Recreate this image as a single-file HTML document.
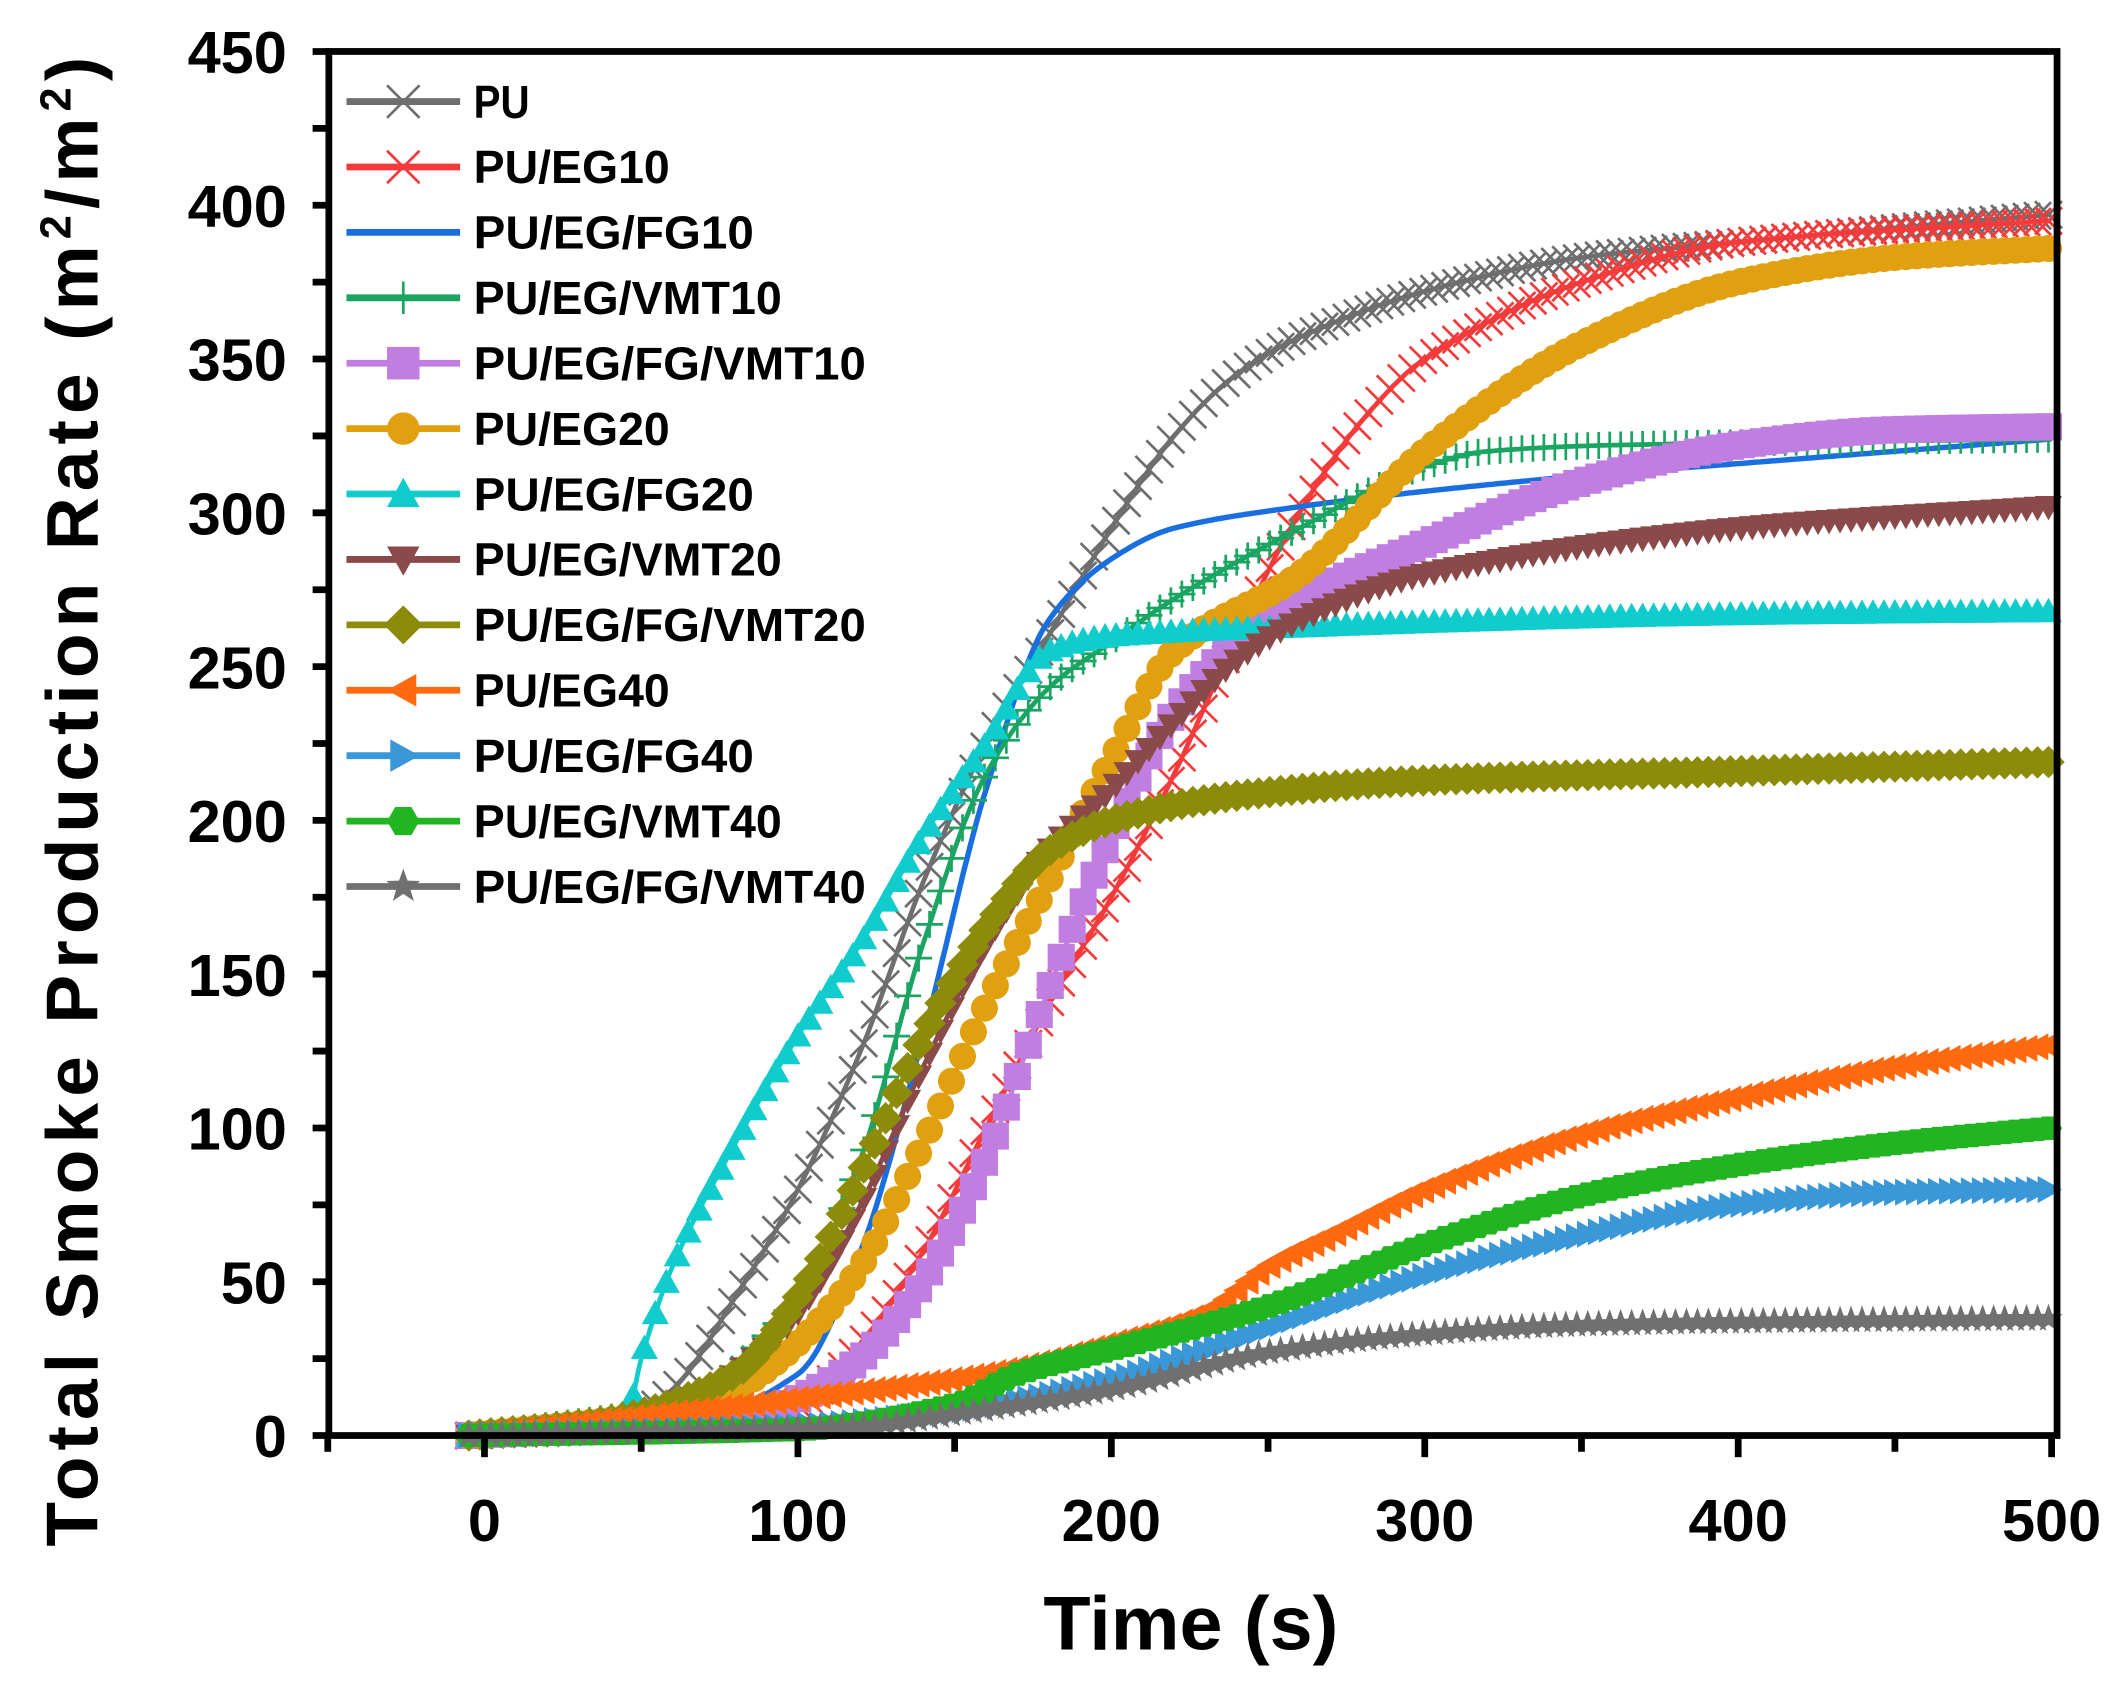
<!DOCTYPE html>
<html><head><meta charset="utf-8"><style>
html,body{margin:0;padding:0;background:#fff}
svg{display:block}
text{font-family:"Liberation Sans",Arial,sans-serif;font-weight:bold;fill:#000}
</style></head><body>
<svg id="s" width="2122" height="1682" viewBox="0 0 1568 1242" preserveAspectRatio="none" xmlns="http://www.w3.org/2000/svg">
<rect width="1568" height="1242" fill="#fff"/>
<g id="plot"></g>
<g id="axes"></g>
<g id="leg"></g>
<text x="880" y="1218" font-size="56" text-anchor="middle" textLength="218" lengthAdjust="spacingAndGlyphs">Time (s)</text>
<text transform="translate(72,592) rotate(-90)" font-size="54" text-anchor="middle" textLength="1100" lengthAdjust="spacing">Total Smoke Production Rate (m<tspan dy="-20" font-size="32">2</tspan><tspan dy="20">/m</tspan><tspan dy="-20" font-size="32">2</tspan><tspan dy="20">)</tspan></text>
</svg>
<script>
var NS="http://www.w3.org/2000/svg";
function X(t){return 358+t*2.316}
function Y(v){return 1060-v*2.2711}
function el(p,tag,a){var e=document.createElementNS(NS,tag);for(var k in a)e.setAttribute(k,a[k]);p.appendChild(e);return e}
var S=[
["PU","#6e6e6e","x",[[-5,0],[40,2],[60,15],[80,45],[100,80],[120,125],[140,180],[160,225],[180,260],[200,295],[220,325],[240,345],[260,357],[300,372],[350,383],[400,388],[500,397]]],
["PU/EG10","#f43b3b","x",[[-5,0],[60,3],[100,10],[120,30],[140,60],[160,100],[180,140],[200,175],[220,215],[240,260],[260,300],[280,330],[300,350],[350,375],[400,388],[500,395]]],
["PU/EG/FG10","#1a6fe0","none",[[-5,0],[60,3],[100,20],[120,60],[140,130],[160,210],[180,265],[200,285],[220,295],[260,302],[300,307],[350,312],[400,316],[500,324]]],
["PU/EG/VMT10","#1aa563","+",[[-5,0],[60,10],[100,45],[120,90],[140,160],[160,215],[180,243],[200,258],[220,272],[260,295],[300,315],[320,320],[360,322],[500,324]]],
["PU/EG/FG/VMT10","#c07fe0","sq",[[-5,0],[80,5],[100,12],[120,25],[140,50],[160,90],[180,145],[200,195],[220,235],[240,258],[260,272],[300,290],[350,310],[400,322],[450,327],[500,328]]],
["PU/EG20","#e0a010","ci",[[-5,0],[60,8],[80,15],[100,30],[120,55],[140,95],[160,140],[180,180],[200,220],[220,255],[260,280],[300,320],[350,355],[400,375],[450,383],[500,386]]],
["PU/EG/FG20","#10cccc","tu",[[-5,0],[45,5],[50,25],[60,55],[80,95],[100,130],[120,160],[140,195],[160,225],[180,255],[200,260],[260,263],[400,267],[500,268]]],
["PU/EG/VMT20","#8b4a4a","td",[[-5,0],[60,8],[80,20],[100,40],[120,75],[140,120],[160,160],[180,190],[200,210],[220,232],[240,252],[260,265],[300,280],[400,295],[500,302]]],
["PU/EG/FG/VMT20","#8c8c0a","di",[[-5,0],[40,5],[80,20],[100,45],[120,85],[140,130],[160,165],[180,190],[200,200],[240,208],[300,213],[400,216],[500,219]]],
["PU/EG40","#ff6a10","tl",[[-5,0],[40,5],[100,12],[160,20],[200,30],[230,40],[250,55],[270,65],[300,80],[350,98],[400,110],[450,120],[500,127]]],
["PU/EG/FG40","#3a98d8","tr",[[-5,0],[100,3],[150,8],[200,18],[250,35],[300,52],[350,65],[400,75],[450,79],[500,80]]],
["PU/EG/VMT40","#22b522","hx",[[-5,0],[100,2],[150,10],[170,20],[200,28],[250,42],[300,62],[350,78],[400,88],[450,95],[500,100]]],
["PU/EG/FG/VMT40","#707070","st",[[-5,0],[120,3],[150,7],[200,15],[250,27],[300,33],[350,36],[400,37],[500,38]]]
];
function interp(p,t){
 var n=p.length;
 for(var i=1;i<n;i++){if(t<=p[i][0]||i==n-1){
  var a=p[i-1],b=p[i],h=b[0]-a[0];
  function sl(j){if(j<=0||j>=n-1)return j<=0?(p[1][1]-p[0][1])/(p[1][0]-p[0][0]):(p[n-1][1]-p[n-2][1])/(p[n-1][0]-p[n-2][0]);
   var s1=(p[j][1]-p[j-1][1])/(p[j][0]-p[j-1][0]),s2=(p[j+1][1]-p[j][1])/(p[j+1][0]-p[j][0]);
   if(s1*s2<=0)return 0;return 2/(1/s1+1/s2);}
  var m0=sl(i-1),m1=sl(i),u=(t-a[0])/h;u=Math.max(0,Math.min(1,u));
  var h00=2*u*u*u-3*u*u+1,h10=u*u*u-2*u*u+u,h01=-2*u*u*u+3*u*u,h11=u*u*u-u*u;
  return h00*a[1]+h10*h*m0+h01*b[1]+h11*h*m1;}}
 return p[n-1][1];}
function marker(g,type,x,y,c,r){
 if(type=="x"){el(g,"path",{d:"M"+(x-r)+","+(y-r)+"L"+(x+r)+","+(y+r)+"M"+(x-r)+","+(y+r)+"L"+(x+r)+","+(y-r),stroke:c,"stroke-width":2,fill:"none"});}
 else if(type=="+"){el(g,"path",{d:"M"+(x-r)+","+y+"L"+(x+r)+","+y+"M"+x+","+(y-r)+"L"+x+","+(y+r),stroke:c,"stroke-width":2,fill:"none"});}
 else if(type=="sq")el(g,"rect",{x:x-r,y:y-r,width:2*r,height:2*r,fill:c});
 else if(type=="ci")el(g,"circle",{cx:x,cy:y,r:r,fill:c});
 else{var p;
  if(type=="tu")p=[[0,-r],[r,r*0.8],[-r,r*0.8]];
  else if(type=="td")p=[[0,r],[r,-r*0.8],[-r,-r*0.8]];
  else if(type=="tl")p=[[-r,0],[r*0.8,-r],[r*0.8,r]];
  else if(type=="tr")p=[[r,0],[-r*0.8,-r],[-r*0.8,r]];
  else if(type=="di")p=[[0,-r*1.2],[r*1.2,0],[0,r*1.2],[-r*1.2,0]];
  else if(type=="hx"){p=[];for(var k=0;k<6;k++){var a=Math.PI/3*k;p.push([r*Math.cos(a),r*Math.sin(a)])}}
  else if(type=="st"){p=[];for(var k=0;k<10;k++){var a=-Math.PI/2+Math.PI/5*k,rr=k%2?r*0.45:r*1.1;p.push([rr*Math.cos(a),rr*Math.sin(a)])}}
  el(g,"polygon",{points:p.map(function(q){return (x+q[0])+","+(y+q[1])}).join(" "),fill:c});}
}
var plot=document.getElementById("plot");
S.forEach(function(s){
 var d="";for(var t=-5;t<=500;t+=1){d+=(t==-5?"M":"L")+X(t).toFixed(1)+","+Y(interp(s[3],t)).toFixed(1)}
 el(plot,"path",{d:d,stroke:s[1],"stroke-width":s[2]=="none"?4:3.5,fill:"none"});
 if(s[2]!="none")for(var t=-5;t<=500;t+=3.5)marker(plot,s[2],X(t),Y(interp(s[3],t)),s[1],10);
});
var ax=document.getElementById("axes");
el(ax,"rect",{x:243,y:38,width:1277,height:1022,fill:"none",stroke:"#000","stroke-width":5});
for(var v=0;v<=450;v+=25){var y=Y(v);el(ax,"line",{x1:231,x2:243,y1:y,y2:y,stroke:"#000","stroke-width":5});
 if(v%50==0){var tx=el(ax,"text",{x:212,y:y+16,"font-size":44,"text-anchor":"end"});tx.textContent=v;}}
for(var t=-50;t<=500;t+=50){var x=X(t);el(ax,"line",{x1:x,x2:x,y1:1060,y2:t%100==0?1076:1072,stroke:"#000","stroke-width":5});
 if(t>=0&&t%100==0){var tx=el(ax,"text",{x:x,y:1138,"font-size":44,"text-anchor":"middle"});tx.textContent=t;}}
var lg=document.getElementById("leg");
S.forEach(function(s,i){var y=75+i*48.3;
 el(lg,"line",{x1:256,x2:340,y1:y,y2:y,stroke:s[1],"stroke-width":5});
 if(s[2]!="none")marker(lg,s[2],298,y,s[1],12);
 var tx=el(lg,"text",{x:350,y:y+12,"font-size":34,textLength:s[0].length*20.7,lengthAdjust:"spacingAndGlyphs"});tx.textContent=s[0];});
</script>
</body></html>
